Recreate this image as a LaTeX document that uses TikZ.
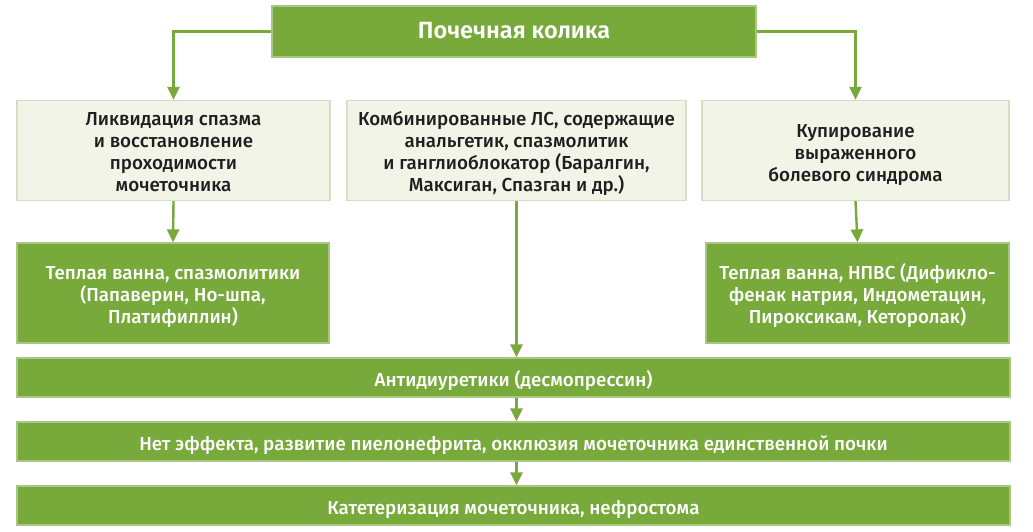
\documentclass[tikz,border=0pt]{standalone}
\usepackage{fontspec}
\setmainfont{Fira Sans}[UprightFont={* Medium}, BoldFont={* SemiBold}]
\usetikzlibrary{arrows.meta}
\definecolor{gfill}{HTML}{77A93B}
\definecolor{gedge}{HTML}{A8C680}
\definecolor{lfill}{HTML}{F1F4E6}
\definecolor{ledge}{HTML}{D6DFC2}
\definecolor{ink}{HTML}{1E1E1E}
\tikzset{
  box/.style={rectangle, inner sep=0pt, align=center, text depth=0pt, font=\fontsize{18.8}{22.2}\selectfont},
  lightbox/.style={box, fill=lfill, draw=ledge, line width=1.2pt, text=ink},
  greenbox/.style={box, fill=gfill, draw=gedge, line width=1.2pt, text=white},
  conn/.style={draw=gfill, line width=2.4pt, -{Triangle[width=12pt,length=13pt]}},
}
\begin{document}
\begin{tikzpicture}[x=1pt,y=1pt]
\useasboundingbox[fill=white] (0,0) rectangle (1033,-531);
\node[greenbox, minimum width=484pt, minimum height=51pt, text height=13.6pt, font=\bfseries\fontsize{23.5}{28}\selectfont] (top) at (514,-31.5) {Почечная колика};
\node[lightbox, text height=82.4pt, minimum width=313pt, minimum height=100pt] (l1) at (173.5,-150.5) {Ликвидация спазма\\и восстановление\\проходимости\\мочеточника};
\node[lightbox, text height=82.4pt, minimum width=339pt, minimum height=100pt] (m1) at (516.5,-150.5) {Комбинированные ЛС, содержащие\\анальгетик, спазмолитик\\и ганглиоблокатор (Баралгин,\\Максиган, Спазган и др.)};
\node[lightbox, text height=62.4pt, minimum width=307pt, minimum height=100pt] (r1) at (855.5,-150.5) {Купирование\\выраженного\\болевого синдрома};
\node[greenbox, text height=61pt, minimum width=312pt, minimum height=100pt] (l2) at (173,-293) {Теплая ванна, спазмолитики\\(Папаверин, Но-шпа,\\Платифиллин)};
\node[greenbox, text height=61pt, minimum width=303pt, minimum height=100pt] (r2) at (857.5,-293) {Теплая ванна, НПВС (Дификло-\\фенак натрия, Индометацин,\\Пироксикам, Кеторолак)};
\node[greenbox, text height=17pt, minimum width=993pt, minimum height=39pt] (b1) at (513.5,-377.5) {Антидиуретики (десмопрессин)};
\node[greenbox, text height=17pt, minimum width=993pt, minimum height=39pt] (b2) at (513.5,-441.5) {Нет эффекта, развитие пиелонефрита, окклюзия мочеточника единственной почки};
\node[greenbox, text height=17pt, minimum width=993pt, minimum height=39pt] (b3) at (513.5,-505.5) {Катетеризация мочеточника, нефростома};
\draw[conn] (top.west) -| (l1.north);
\draw[conn] (top.east) -| (r1.north);
\draw[conn] (l1.south) -- (l2.north);
\draw[conn] (r1.south) -- (r2.north);
\draw[conn] (m1.south) -- (m1.south |- b1.north);
\draw[conn] (b1.south -| m1.south) -- (b2.north -| m1.south);
\draw[conn] (b2.south -| m1.south) -- (b3.north -| m1.south);
\end{tikzpicture}
\end{document}
